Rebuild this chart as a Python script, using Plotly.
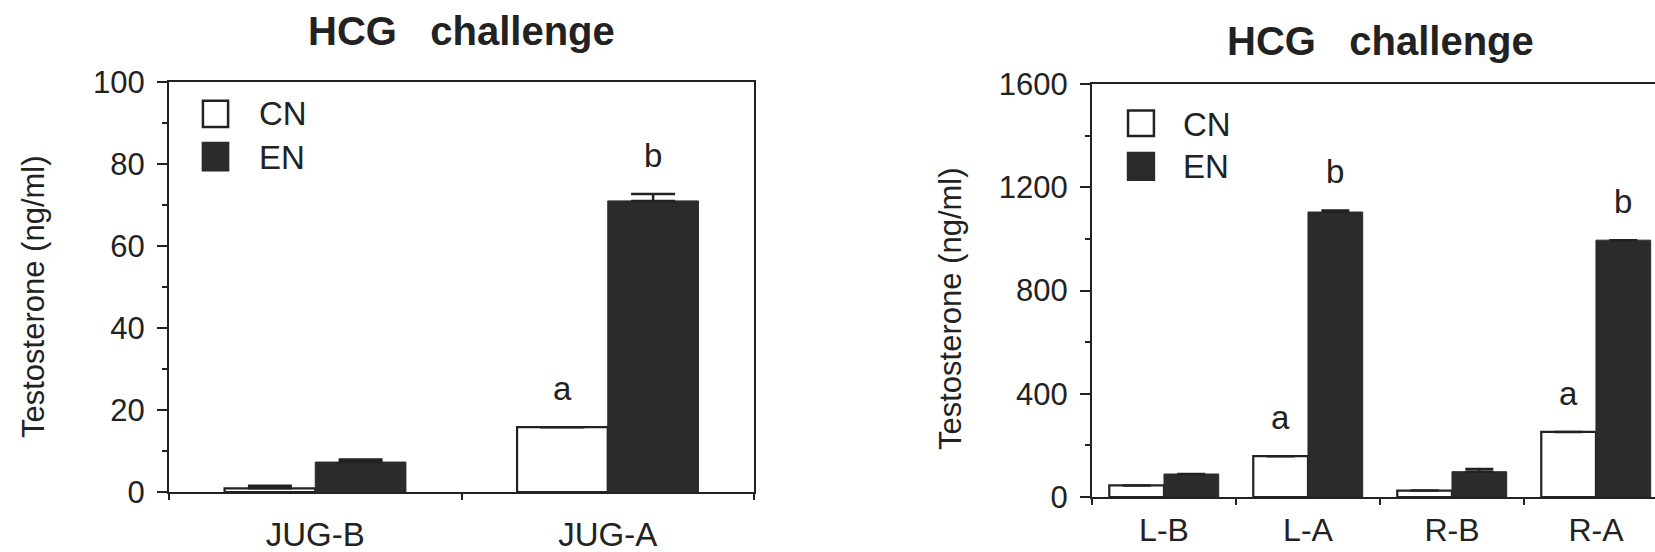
import plotly.graph_objects as go

# ---- data -------------------------------------------------------------
series_names = ["CN", "EN"]

groups_left = ["JUG-B", "JUG-A"]
cn_left = [0.9, 15.8]
en_left = [7.3, 71.0]
cn_left_err = [0.6, None]
en_left_err = [0.6, 1.7]
cn_left_letters = ["", "a"]
en_left_letters = ["", "b"]
left_ticks = [0, 20, 40, 60, 80, 100]
left_minor = [10, 30, 50, 70, 90]

groups_right = ["L-B", "L-A", "R-B", "R-A"]
cn_right = [45, 158, 25, 252]
en_right = [89, 1104, 98, 995]
cn_right_err = [None, None, None, None]
en_right_err = [None, 6, 10, None]
cn_right_letters = ["", "a", "", "a"]
en_right_letters = ["", "b", "", "b"]
right_ticks = [0, 400, 800, 1200, 1600]
right_minor = [200, 600, 1000, 1400]

title_text = "HCG\u00a0\u00a0\u00a0challenge"
y_title = "Testosterone (ng/ml)"

# ---- styling ----------------------------------------------------------
W, H = 1655, 552
INK = "#222222"
DARK = "#2b2b2b"
FONT = "Liberation Sans, Arial, Helvetica, sans-serif"
TEXT_SIZE = 33
YTICK_SIZE = 31


def fx(px):
    return px / W


def fy(px):
    return 1 - px / H


fig = go.Figure()


def add_panel(groups, cn, en, cn_err, en_err, cn_let, en_let, xa, ya, bw, cap):
    xs = list(range(len(groups)))
    for vals, errs, name, fill, line_w, off in [
        (cn, cn_err, series_names[0], "white", 2.2, -bw),
        (en, en_err, series_names[1], DARK, 1, 0.0),
    ]:
        up = [e if e is not None else float("nan") for e in errs]
        fig.add_trace(go.Bar(
            x=xs, y=vals, name=name, width=bw, offset=off,
            marker=dict(color=fill, line=dict(color=INK if fill == "white" else DARK, width=line_w)),
            error_y=dict(type="data", symmetric=False, array=up, arrayminus=[0] * len(up),
                         visible=True, color=INK, thickness=2.5, width=cap),
            xaxis=xa, yaxis=ya, showlegend=False,
        ))
    # significance letters above bars
    for i in xs:
        for vals, errs, lets, c in [(cn, cn_err, cn_let, -bw / 2), (en, en_err, en_let, bw / 2)]:
            if lets[i]:
                top = vals[i] + (errs[i] or 0)
                fig.add_annotation(x=i + c, y=top, xref=xa, yref=ya, text=lets[i],
                                   showarrow=False, yanchor="bottom", yshift=18,
                                   font=dict(size=TEXT_SIZE, color=INK, family=FONT))


add_panel(groups_left, cn_left, en_left, cn_left_err, en_left_err,
          cn_left_letters, en_left_letters, "x", "y", 0.31, 22)
add_panel(groups_right, cn_right, en_right, cn_right_err, en_right_err,
          cn_right_letters, en_right_letters, "x2", "y2", 0.38, 14)

axis_common = dict(showgrid=False, zeroline=False, showline=True, linecolor=INK,
                   linewidth=2, ticks="outside", tickcolor=INK, tickwidth=2, automargin=False)
xfont = dict(size=TEXT_SIZE, color=INK, family=FONT)
xfont_right = dict(size=32, color=INK, family=FONT)
yfont = dict(size=YTICK_SIZE, color=INK, family=FONT)

fig.update_layout(
    width=W, height=H, margin=dict(l=0, r=0, t=0, b=0, autoexpand=False),
    paper_bgcolor="white", plot_bgcolor="white", barmode="overlay",
    xaxis=dict(domain=[fx(169), fx(754)], type="category", range=[-0.5, 1.5],
               tickvals=[0, 1], ticktext=groups_left, tickson="boundaries", tickfont=xfont,
               ticklen=6, mirror=True, anchor="y", ticklabelstandoff=12, **axis_common),
    yaxis=dict(domain=[fy(492), fy(82)], range=[0, 100], tickvals=left_ticks, tickfont=yfont,
               ticklen=10, mirror=True, anchor="x", ticklabelstandoff=6,
               minor=dict(tickvals=left_minor, ticklen=5, ticks="outside", tickcolor=INK, tickwidth=2),
               **axis_common),
    xaxis2=dict(domain=[fx(1092), 1.0], type="category", range=[-0.5, 3.41],
                tickvals=[0, 1, 2, 3], ticktext=groups_right, tickson="boundaries", tickfont=xfont_right,
                ticklen=6, mirror=True, anchor="y2", ticklabelstandoff=4, **axis_common),
    yaxis2=dict(domain=[fy(497), fy(84)], range=[0, 1600], tickvals=right_ticks, tickfont=yfont,
                ticklen=10, mirror=False, anchor="x2", ticklabelstandoff=6,
                minor=dict(tickvals=right_minor, ticklen=5, ticks="outside", tickcolor=INK, tickwidth=2),
                **axis_common),
)

# titles and y-axis labels
for cx, cy in [(462, 31), (1380, 41)]:
    fig.add_annotation(x=fx(cx), y=fy(cy), xref="paper", yref="paper", text=f"<b>{title_text}</b>",
                       showarrow=False, xanchor="center", yanchor="middle",
                       font=dict(size=40, color=INK, family=FONT))
for cx, cy in [(34, 297), (950, 309)]:
    fig.add_annotation(x=fx(cx), y=fy(cy), xref="paper", yref="paper", text=y_title,
                       textangle=-90, showarrow=False, xanchor="center", yanchor="middle",
                       font=dict(size=31, color=INK, family=FONT))

# hand-drawn legends inside each panel
legend_boxes = {
    ("x", "y"): dict(x0=0.058, x1=0.101, rows=[(0.954, 0.890, 0.922), (0.851, 0.785, 0.817)], tx=0.150),
    ("x2", "y2"): dict(x0=0.064, x1=0.110, rows=[(0.936, 0.874, 0.903), (0.833, 0.768, 0.801)], tx=0.158),
}
for (xa, ya), spec in legend_boxes.items():
    for k, (y1, y0, yc) in enumerate(spec["rows"]):
        fill = "white" if k == 0 else DARK
        fig.add_shape(type="rect", xref=f"{xa} domain", yref=f"{ya} domain",
                      x0=spec["x0"], x1=spec["x1"], y0=y0, y1=y1,
                      fillcolor=fill, line=dict(color=INK if k == 0 else DARK, width=2.5))
        fig.add_annotation(x=spec["tx"], y=yc, xref=f"{xa} domain", yref=f"{ya} domain",
                           text=series_names[k], showarrow=False, xanchor="left", yanchor="middle",
                           font=dict(size=TEXT_SIZE, color=INK, family=FONT))

fig.write_html("out.html")
